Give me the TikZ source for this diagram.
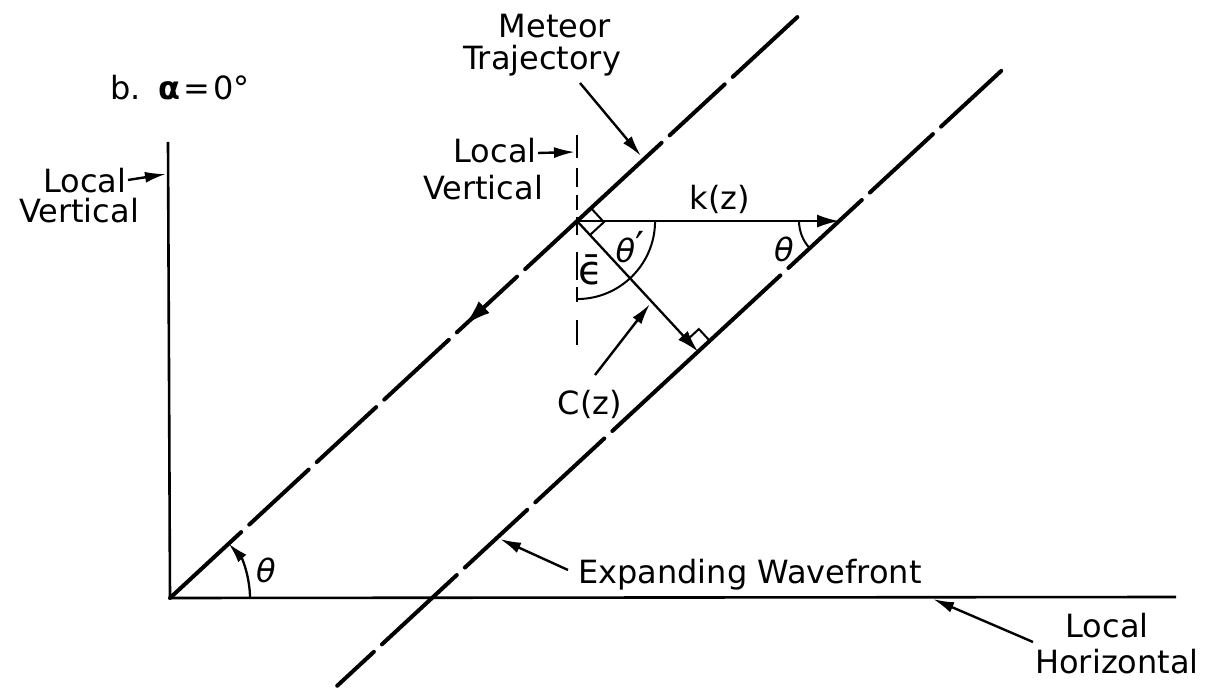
\documentclass[tikz,border=0pt]{standalone}
\usepackage{fontspec}
\setmainfont{DejaVu Sans}
\usetikzlibrary{calc,arrows.meta}
\begin{document}
\begin{tikzpicture}[x=1pt,y=1pt,
  font=\fontsize{32}{38}\selectfont,
  trajline/.style={line width=4pt,line cap=round},
  axisline/.style={line width=2.6pt},
  vdash/.style={line width=2.4pt},
  leader/.style={line width=2.4pt,-{Latex[length=21pt,width=11pt]}},
  thinline/.style={line width=2pt},
  vecline/.style={line width=2.3pt,-{Latex[length=22pt,width=13pt]}},
  lbl/.style={inner sep=0pt,anchor=base},
  glbl/.style={inner sep=0pt,anchor=center,font=\fontsize{32}{38}\selectfont\itshape}]
\useasboundingbox (0,0) rectangle (1212,691);
\def\th{42.8}
% key points
\coordinate (O) at (170,93);
\coordinate (V) at (168,549);
\coordinate (H) at (1176,94);
\coordinate (P) at ($(O)+(\th:554.8)$);
\coordinate (K) at ($(P)+(262,0)$);
\coordinate (F) at ($(P)+(\th-90:178)$);
\coordinate (B) at ($(K)+(180+\th:684)$);
% axes
\draw[axisline] (V) -- (O) -- (H);
% meteor trajectory (long dashes)
\foreach \a/\b in {0/97,108/189,200/281,292/380,391/473,484/670,681/756,767/855}
  \draw[trajline] ($(O)+(\th:\a)$) -- ($(O)+(\th:\b)$);
% arrowhead on trajectory
\draw[line width=3pt,-{Latex[length=26pt,width=16pt]}] ($(O)+(\th:436)$) -- ($(O)+(\th:402)$);
% expanding wavefront
\foreach \a/\b in {0/50,61/163,174/259,270/364,375/604,615/715,726/812,823/905}
  \draw[trajline] ($(B)+(\th:\a)$) -- ($(B)+(\th:\b)$);
% local vertical (dashed) at P
\foreach \a/\b in {556/533,523/504,496/481,474/456,439/411,404/389,371/346}
  \draw[vdash] (577,\a) -- (577,\b);
% right-angle marks
\draw[thinline] ($(P)+(\th:19)$) -- ++(\th-90:19) -- ($(P)+(\th-90:19)$);
\draw[thinline] ($(F)+(\th:16)$) -- ++(\th+90:16) -- ($(F)+(\th+90:16)$);
% arcs
\draw[thinline] ($(P)+(78,0)$) arc[start angle=0,end angle=-90,radius=78];
\draw[thinline] ($(K)+(-40,0)$) arc[start angle=180,end angle=180+\th,radius=40];
\draw[line width=2.3pt,-{Latex[length=20pt,width=11pt]}] ($(O)+(80,0)$) arc[start angle=0,end angle=\th,radius=80];
% k(z) and C(z)
\draw[vecline] (P) -- (K);
\draw[vecline] (P) -- (F);
% labels
\node[lbl,anchor=base west] (ttl) at (110,591) {b.\hspace{18pt}{\bfseries α}\hspace{3pt}=\hspace{3pt}0°};
\node[lbl] (lv1a) at (85,498) {Local};
\node[lbl] (lv1b) at (79,468) {Vertical};
\node[lbl] (lv2a) at (495,528) {Local};
\node[lbl] (lv2b) at (483,491) {Vertical};
\node[lbl] (mt1) at (555,653) {Meteor};
\node[lbl] (mt2) at (542,621) {Trajectory};
\node[lbl] (kz) at (720,481) {k(z)};
\node[lbl] (cz) at (590,276) {C(z)};
\node[lbl,anchor=base west] (ew) at (578,108) {Expanding Wavefront};
\node[lbl] (lh1) at (1107,54) {Local};
\node[lbl] (lh2) at (1117,18) {Horizontal};
\node[glbl] (th1) at (266,121) {θ};
\node[glbl] (th2) at (784,442) {θ};
\node[glbl] (th3) at (630,444) {θ{\upshape\fontsize{40}{40}\selectfont\raisebox{2pt}{′}}};
\node[inner sep=0pt,font=\fontsize{40}{44}\selectfont] (eps) at (591,421) {ϵ̄};
% leader arrows
\coordinate (a1s) at (128,511); \coordinate (a1e) at (166,517);
\coordinate (a2s) at (538,538); \coordinate (a2e) at (575,539);
\coordinate (a3s) at (580,608); \coordinate (a3e) at (641,535);
\coordinate (a4s) at (595,316); \coordinate (a4e) at (650,387);
\coordinate (a5s) at (568,121); \coordinate (a5e) at (500,152);
\coordinate (a6s) at (1033,49); \coordinate (a6e) at (933,92);
\draw[leader] (a1s) -- (a1e);
\draw[leader] (a2s) -- (a2e);
\draw[leader] (a3s) -- (a3e);
\draw[leader] (a4s) -- (a4e);
\draw[leader] (a5s) -- (a5e);
\draw[leader] (a6s) -- (a6e);
\end{tikzpicture}
\end{document}
